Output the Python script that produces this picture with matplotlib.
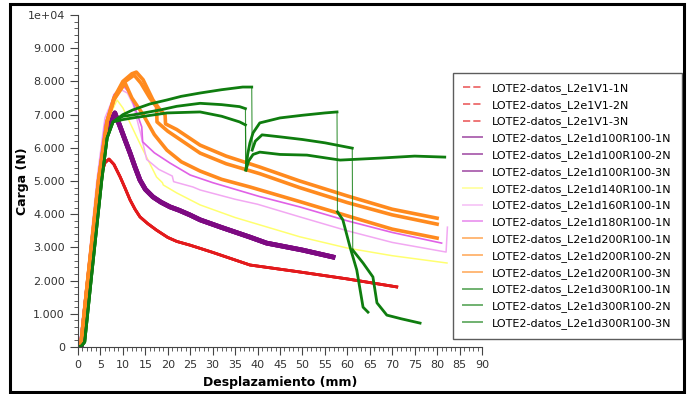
import numpy as np
import matplotlib
matplotlib.use("Agg")
import matplotlib.pyplot as plt
from matplotlib.lines import Line2D
from matplotlib.patches import Rectangle
from matplotlib.ticker import MultipleLocator, FuncFormatter

# --- data (x = mm, y = N) ---
v1_x = [0.7, 2, 4.8, 6.0, 6.9, 8.0, 9.4, 10.5, 11.6, 12.7, 13.8, 15.5, 17.5, 20, 22, 24.9, 27, 30, 38.3, 49.4, 60, 71]
v1_y = [0, 1600, 5030, 5550, 5660, 5500, 5120, 4780, 4430, 4150, 3920, 3720, 3520, 3300, 3180, 3070, 2980, 2850,
        2470, 2260, 2050, 1810]

d100_x = [0.7, 2, 4.8, 6.5, 8.2, 9.4, 10.5, 11.6, 12.7, 13.8, 15, 16.7, 18.5, 20.5, 22.5, 24.9, 27.2, 32, 38.3,
          42, 50, 56.8]
d100_y = [0, 1600, 5030, 6600, 7050, 6630, 6230, 5840, 5420, 5030, 4750, 4520, 4360, 4220, 4120, 3980, 3830, 3600,
          3310, 3130, 2920, 2710]

d140_x = [0.6, 2, 4.7, 6.5, 8.7, 10, 11.6, 13, 14.5, 17.5, 18.8, 19.0, 22, 27.2, 35, 49.4, 60, 70, 82.2]
d140_y = [0, 1700, 5030, 6800, 7440, 7200, 6750, 6350, 5930, 5120, 4950, 4880, 4640, 4280, 3900, 3320, 2980, 2750, 2530]

d160_x = [0.3, 2, 4.2, 6, 8, 9.6, 11, 12.3, 14, 15.3, 18, 21, 21.3, 25.6, 27.2, 35, 40, 49.4, 60, 70, 82, 82.3]
d160_y = [0, 2100, 5030, 6900, 7550, 7750, 7650, 7300, 6400, 5650, 5350, 5150, 4980, 4820, 4730, 4450, 4300, 3920,
          3500, 3150, 2860, 3610]

d180_x = [0.4, 2, 4.4, 6, 8, 10, 11.5, 14.2, 14.4, 17, 20.5, 25, 30, 40.5, 49.4, 60, 70, 81]
d180_y = [0, 2000, 5030, 6700, 7600, 7880, 7650, 6630, 6180, 5850, 5540, 5180, 4950, 4530, 4220, 3800, 3450, 3130]

d200_1_x = [0.6, 2, 4.6, 6.5, 8, 10, 12, 13, 14.5, 16.7, 18.3, 19.4, 19.5, 22, 27.2, 33, 40.5, 49.4, 60, 70, 80]
d200_1_y = [0, 1800, 5030, 6800, 7500, 8000, 8230, 8280, 8050, 7440, 7140, 6990, 6720, 6550, 6080, 5750, 5420, 5000,
            4550, 4150, 3880]
d200_2_x = [0.6, 2, 4.6, 6.5, 8, 10, 12.5, 14, 16, 17.5, 17.6, 20, 27.2, 33, 40.5, 49.4, 60, 70, 80]
d200_2_y = [0, 1800, 5030, 6800, 7450, 7950, 8190, 7950, 7500, 7230, 6780, 6500, 5840, 5520, 5220, 4800, 4350, 3980, 3700]
d200_3_x = [0.6, 2, 4.6, 6.5, 8, 10.5, 12, 14.5, 17, 19.8, 23, 27.2, 32, 38.3, 49.4, 60, 70, 80]
d200_3_y = [0, 1800, 5030, 6800, 7450, 7950, 7500, 7000, 6400, 5930, 5580, 5300, 5050, 4820, 4380, 3950, 3550, 3280]

d300_1_x = [0, 0.8, 1.5, 3, 5.3, 6.5, 7.8, 10, 12.2, 16, 19.8, 23, 27.2, 32, 36.7, 38.7, 38.8, 39.5, 41,
            45, 50, 55, 61.1, 61.2, 63.5, 65.7, 66.6, 68.8, 72, 76.2]
d300_1_y = [0, 30, 150, 2100, 5030, 6300, 6780, 7000, 7140, 7320, 7440, 7550, 7650, 7750, 7830, 7830, 5930, 6200, 6390,
            6330, 6250, 6150, 5990, 2920, 2530, 2110, 1330, 960, 850, 720]
d300_2_x = [0, 0.8, 1.5, 3, 5.3, 6.5, 7.8, 10, 12.2, 18.3, 22, 27.2, 32, 36, 37.3, 37.4, 37.8, 38.3, 39, 40.5,
            45, 50, 55, 57.7, 57.8, 59, 60.6, 62.1, 63.5, 64.6]
d300_2_y = [0, 30, 150, 2100, 5030, 6300, 6780, 6950, 6990, 7140, 7250, 7340, 7300, 7240, 7180, 5330, 5800, 6150,
            6450, 6750, 6900, 6980, 7050, 7080, 4070, 3830, 3010, 2320, 1200, 1050]
d300_3_x = [0, 0.8, 1.5, 3, 5.3, 6.5, 7.8, 10, 12.2, 19.8, 27.2, 32, 36, 37.3, 37.4, 38, 39, 40.5,
            45, 51, 58.4, 67.3, 75, 81.7]
d300_3_y = [0, 30, 150, 2100, 5030, 6300, 6780, 6850, 6900, 7050, 7080, 6950, 6780, 6690, 5330, 5600, 5800, 5870,
            5800, 5780, 5630, 5690, 5750, 5720]

labels = ["LOTE2-datos_L2e1V1-1N", "LOTE2-datos_L2e1V1-2N", "LOTE2-datos_L2e1V1-3N",
          "LOTE2-datos_L2e1d100R100-1N", "LOTE2-datos_L2e1d100R100-2N", "LOTE2-datos_L2e1d100R100-3N",
          "LOTE2-datos_L2e1d140R100-1N", "LOTE2-datos_L2e1d160R100-1N", "LOTE2-datos_L2e1d180R100-1N",
          "LOTE2-datos_L2e1d200R100-1N", "LOTE2-datos_L2e1d200R100-2N", "LOTE2-datos_L2e1d200R100-3N",
          "LOTE2-datos_L2e1d300R100-1N", "LOTE2-datos_L2e1d300R100-2N", "LOTE2-datos_L2e1d300R100-3N"]

RED, PURPLE, YELLOW = "#e31a1c", "#7d0a82", "#ffff70"
PINK, MAGENTA, ORANGE, GREEN = "#f2a8f2", "#e060e6", "#ff8a1e", "#0f7d0f"

fig = plt.figure(figsize=(6.88, 3.94), dpi=100)
ax = fig.add_axes([78 / 688, 47 / 394, 404 / 688, 332 / 394])

# overlapping replicates drawn from the same readings
for _ in range(3):
    ax.plot(v1_x, v1_y, color=RED, lw=2.0)
for _ in range(3):
    ax.plot(d100_x, d100_y, color=PURPLE, lw=3.4)
ax.plot(d140_x, d140_y, color=YELLOW, lw=1.1)
ax.plot(d160_x, d160_y, color=PINK, lw=1.1)
ax.plot(d180_x, d180_y, color=MAGENTA, lw=1.2)
for xs, ys in [(d200_1_x, d200_1_y), (d200_2_x, d200_2_y), (d200_3_x, d200_3_y)]:
    ax.plot(xs, ys, color=ORANGE, lw=2.6)


def green(xs, ys):
    xs, ys = np.asarray(xs, float), np.asarray(ys, float)
    ax.plot(xs, ys, color=GREEN, lw=0.8, alpha=0.8)
    # thick where samples are dense, thin across the sudden drops
    gx, gy = [xs[0]], [ys[0]]
    for i in range(1, len(xs)):
        if abs(ys[i] - ys[i - 1]) > 1000 and xs[i] - xs[i - 1] < 0.5:
            gx.append(np.nan)
            gy.append(np.nan)
        gx.append(xs[i])
        gy.append(ys[i])
    ax.plot(gx, gy, color=GREEN, lw=2.0)


green(d300_1_x, d300_1_y)
green(d300_2_x, d300_2_y)
green(d300_3_x, d300_3_y)

ax.set_xlim(0, 90)
ax.set_ylim(0, 10000)
ax.xaxis.set_major_locator(MultipleLocator(5))
ax.xaxis.set_minor_locator(MultipleLocator(1))
ax.yaxis.set_major_locator(MultipleLocator(1000))
ax.yaxis.set_minor_locator(MultipleLocator(200))


def fmt(v, pos):
    if v >= 10000:
        return "1e+04"
    return f"{int(round(v)):,}".replace(",", ".")


ax.yaxis.set_major_formatter(FuncFormatter(fmt))
for s in ["top", "right"]:
    ax.spines[s].set_visible(False)
for s in ["left", "bottom"]:
    ax.spines[s].set_color("#444444")
ax.tick_params(which="major", length=6, color="#444444", labelsize=8, labelcolor="#333333")
ax.tick_params(which="minor", length=3, color="#444444")
ax.set_xlabel("Desplazamiento (mm)", fontsize=9, fontweight="bold", labelpad=4)
ax.set_ylabel("Carga (N)", fontsize=9, fontweight="bold", labelpad=-1)

cols = [RED] * 3 + [PURPLE] * 3 + [YELLOW, PINK, MAGENTA] + [ORANGE] * 3 + [GREEN] * 3
handles = [Line2D([], [], color=c, lw=1.4, alpha=0.6, ls="--" if i < 3 else "-")
           for i, c in enumerate(cols)]
leg = ax.legend(handles, labels, loc="upper left", bbox_to_anchor=(453 / 688, 1 - 73 / 394),
                bbox_transform=fig.transFigure, borderaxespad=0, fontsize=8, frameon=True,
                fancybox=False, edgecolor="#333333", labelspacing=0.53, handlelength=1.7,
                handletextpad=0.9, borderpad=0.9)
leg.get_frame().set_linewidth(1.0)

fig.patches.append(Rectangle((10 / 688, 2 / 394), 674 / 688, 388 / 394, transform=fig.transFigure,
                             fill=False, edgecolor="black", lw=2.2))

fig.savefig("out.png", dpi=100)
